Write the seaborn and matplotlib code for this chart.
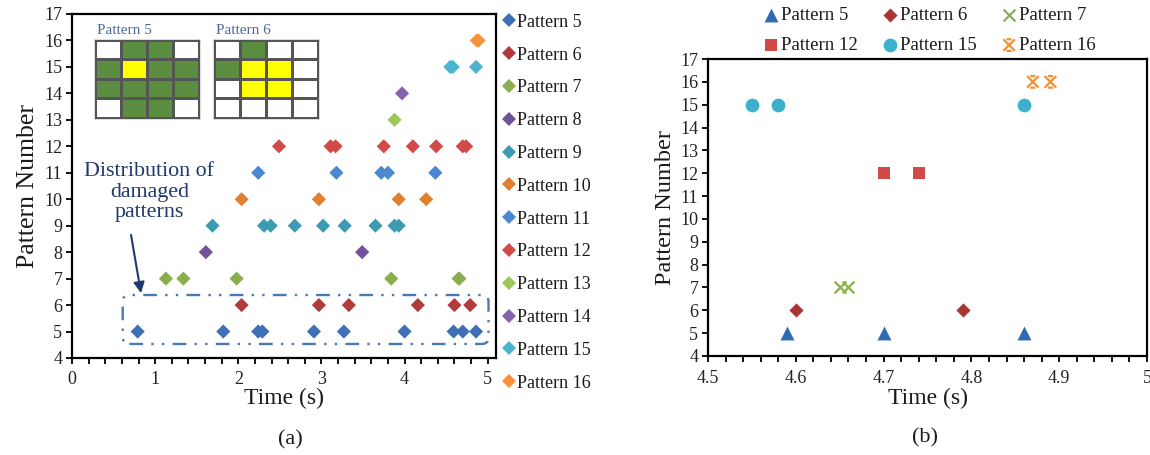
import numpy as np
import pandas as pd
import matplotlib
matplotlib.use('Agg')
import matplotlib.pyplot as plt
import seaborn as sns
from matplotlib.patches import FancyBboxPatch
from matplotlib.path import Path
from matplotlib.markers import MarkerStyle
from matplotlib.colors import ListedColormap
from matplotlib.ticker import MultipleLocator

# ---------------- data ----------------
t_p5 = [0.79, 1.82, 2.24, 2.29, 2.91, 3.27, 4.00, 4.59, 4.70, 4.86]
t_p6 = [2.04, 2.97, 3.33, 4.16, 4.60, 4.79]
t_p7 = [1.13, 1.34, 1.98, 3.84, 4.65, 4.66]
t_p8 = [1.61, 3.49]
t_p9 = [1.69, 2.31, 2.39, 2.68, 3.02, 3.28, 3.65, 3.88, 3.93]
t_p10 = [2.04, 2.97, 3.93, 4.26]
t_p11 = [2.24, 3.18, 3.72, 3.80, 4.37]
t_p12 = [2.49, 3.11, 3.17, 3.75, 4.10, 4.38, 4.70, 4.74]
t_p13 = [3.88]
t_p14 = [3.97]
t_p15 = [4.55, 4.58, 4.86]
t_p16 = [4.87, 4.89]

pattern_numbers = [5, 6, 7, 8, 9, 10, 11, 12, 13, 14, 15, 16]
pattern_times = [t_p5, t_p6, t_p7, t_p8, t_p9, t_p10, t_p11, t_p12,
                 t_p13, t_p14, t_p15, t_p16]
pattern_labels = [f"Pattern {n}" for n in pattern_numbers]

left_colors = ['#3F6FB5', '#B03B3B', '#8AAE4F', '#70519A', '#3A9BB2', '#E08030',
               '#4A88D2', '#D24A47', '#9CC85A', '#8664AE', '#4BB5D0', '#F7923A']

# zoomed panel (b)
zoom_patterns = [5, 6, 7, 12, 15, 16]
zoom_colors = ['#2F6BB5', '#A83434', '#8AAE4F', '#D24A47', '#3DB0CE', '#F0923A']
zoom_tmin = 4.5

left_xticks = [0, 1, 2, 3, 4, 5]
y_ticks = list(range(4, 18))
right_xticks = [4.5, 4.6, 4.7, 4.8, 4.9, 5.0]
right_xticklabels = ['4.5', '4.6', '4.7', '4.8', '4.9', '5']

# inset grids: 0 = empty, 1 = damaged (green), 2 = centre (yellow)
grid_p5 = [[0, 1, 1, 0], [1, 2, 1, 1], [1, 1, 1, 1], [0, 1, 1, 0]]
grid_p6 = [[0, 1, 0, 0], [1, 2, 2, 0], [0, 2, 2, 0], [0, 0, 0, 0]]

# ---------------- build table ----------------
rows = []
for n, lab, ts in zip(pattern_numbers, pattern_labels, pattern_times):
    for t in ts:
        rows.append({'Time': t, 'Pattern': n, 'Label': lab})
df = pd.DataFrame(rows)

# ---------------- style ----------------
sns.set_theme(style='white')
plt.rcParams['font.family'] = ['Liberation Serif', 'DejaVu Serif']
plt.rcParams['text.color'] = '#1a1a1a'
plt.rcParams['axes.labelcolor'] = '#1a1a1a'
plt.rcParams['xtick.color'] = '#222222'
plt.rcParams['ytick.color'] = '#222222'

W, H = 1150, 455
fig = plt.figure(figsize=(W / 100, H / 100), dpi=100)

ax1 = fig.add_axes([72 / W, 1 - 358 / H, (496 - 72) / W, (358 - 14) / H])
ax2 = fig.add_axes([708 / W, 1 - 356 / H, (1147 - 708) / W, (356 - 59) / H])

# ---------------- panel (a) ----------------
sns.scatterplot(data=df, x='Time', y='Pattern', hue='Label', hue_order=pattern_labels,
                palette=dict(zip(pattern_labels, left_colors)), marker='D', s=52,
                linewidth=0, ax=ax1, legend=True)
ax1.set_xlim(0, 5.1)
ax1.set_ylim(4, 17)
ax1.set_xticks(left_xticks)
ax1.set_xticklabels([str(v) for v in left_xticks])
ax1.xaxis.set_minor_locator(MultipleLocator(0.2))
ax1.set_yticks(y_ticks)
ax1.tick_params(axis='both', which='both', direction='out', length=4, width=1.3,
                color='black', bottom=True, left=True, labelsize=13, pad=3)
ax1.tick_params(axis='x', pad=5)
ax1.set_xlabel('Time (s)', fontsize=17, labelpad=0)
ax1.set_ylabel('Pattern Number', fontsize=18.5, labelpad=4)
for sp in ax1.spines.values():
    sp.set_color('black')
    sp.set_linewidth(1.6)

sns.move_legend(ax1, loc='upper left', bbox_to_anchor=(499 / W, 1 - 12 / H),
                bbox_transform=fig.transFigure, frameon=False, title=None,
                fontsize=13, labelspacing=0.875, handletextpad=0.0,
                handlelength=0.9, borderaxespad=0, borderpad=0.1, markerscale=1.0)

# annotation text + arrow + dash-dot box
ax1.text(0.93, 10.27, 'Distribution of\ndamaged\npatterns', ha='center', va='center',
         fontsize=15.8, color='#1F3A6A', linespacing=1.12)
ax1.annotate('', xy=(0.83, 6.45), xytext=(0.71, 8.65),
             arrowprops=dict(arrowstyle='-|>', color='#1F3A6A', lw=1.5,
                             mutation_scale=16, shrinkA=0, shrinkB=0))
box = FancyBboxPatch((0.61, 4.53), 4.40, 1.85,
                     boxstyle='round,pad=0,rounding_size=0.08', mutation_aspect=3.14,
                     fill=False, edgecolor='#4A78B0', lw=1.7,
                     linestyle=(0, (5.8, 3.5, 1, 3.5, 1, 3.5)))
ax1.add_patch(box)

# inset grids
cell_cmap = ListedColormap(['#FFFFFF', '#5C8E42', '#FFFF00'])
for grid, left_px, title in [(grid_p5, 95, 'Pattern 5'), (grid_p6, 214, 'Pattern 6')]:
    axi = fig.add_axes([left_px / W, 1 - 118 / H, 104 / W, 78 / H])
    sns.heatmap(np.array(grid), cmap=cell_cmap, vmin=-0.5, vmax=2.5, cbar=False,
                linewidths=1.0, linecolor='#555555', xticklabels=False,
                yticklabels=False, ax=axi, square=False)
    for sp in axi.spines.values():
        sp.set_visible(True)
        sp.set_color('#555555')
        sp.set_linewidth(1.0)
    fig.text((left_px + 2) / W, 1 - 31 / H, title, ha='left', va='center',
             fontsize=11, color='#4A6A9A')

fig.text(290 / W, 1 - 440 / H, '(a)', ha='center', va='center', fontsize=16)

# ---------------- panel (b) ----------------
star_path = Path([(-1, -1), (1, 1), (-1, 1), (1, -1),
                  (-0.45, 1), (0.45, 1), (-0.45, -1), (0.45, -1)],
                 [Path.MOVETO, Path.LINETO, Path.MOVETO, Path.LINETO,
                  Path.MOVETO, Path.LINETO, Path.MOVETO, Path.LINETO])
zoom_markers = {5: '^', 6: 'D', 7: 'x', 12: 's', 15: 'o',
                16: MarkerStyle(star_path, fillstyle='none')}
zoom_sizes = {5: 100, 6: 52, 7: 72, 12: 74, 15: 98, 16: 70}

handles = {}
for n, col in zip(zoom_patterns, zoom_colors):
    sub = df[(df['Pattern'] == n) & (df['Time'] >= zoom_tmin)]
    lab = f"Pattern {n}"
    line_art = n in (7, 16)
    sns.scatterplot(data=sub, x='Time', y='Pattern', marker=zoom_markers[n],
                    s=zoom_sizes[n], color=col, linewidth=1.6 if line_art else 0,
                    ax=ax2, label=lab, legend=False)
    handles[n] = ax2.collections[-1]

ax2.set_xlim(4.5, 5.0)
ax2.set_ylim(4, 17)
ax2.set_xticks(right_xticks)
ax2.set_xticklabels(right_xticklabels)
ax2.xaxis.set_minor_locator(MultipleLocator(0.02))
ax2.set_yticks(y_ticks)
ax2.tick_params(axis='both', which='both', direction='out', length=4, width=1.3,
                color='black', bottom=True, left=True, labelsize=13, pad=3)
ax2.tick_params(axis='x', pad=6)
ax2.set_xlabel('Time (s)', fontsize=17, labelpad=1)
ax2.set_ylabel('Pattern Number', fontsize=17.5, labelpad=3)
for sp in ax2.spines.values():
    sp.set_color('black')
    sp.set_linewidth(1.6)

order = [5, 12, 6, 15, 7, 16]
leg2 = ax2.legend([handles[n] for n in order], [f"Pattern {n}" for n in order],
                  ncol=3, loc='upper center', bbox_to_anchor=(929 / W, 1 - 7 / H),
                  bbox_transform=fig.transFigure, frameon=False, fontsize=13.5,
                  handletextpad=0.05, handlelength=0.9, columnspacing=1.3,
                  labelspacing=0.68, borderpad=0, borderaxespad=0)

fig.text(925 / W, 1 - 438 / H, '(b)', ha='center', va='center', fontsize=16)

fig.savefig('out.png', dpi=100)
